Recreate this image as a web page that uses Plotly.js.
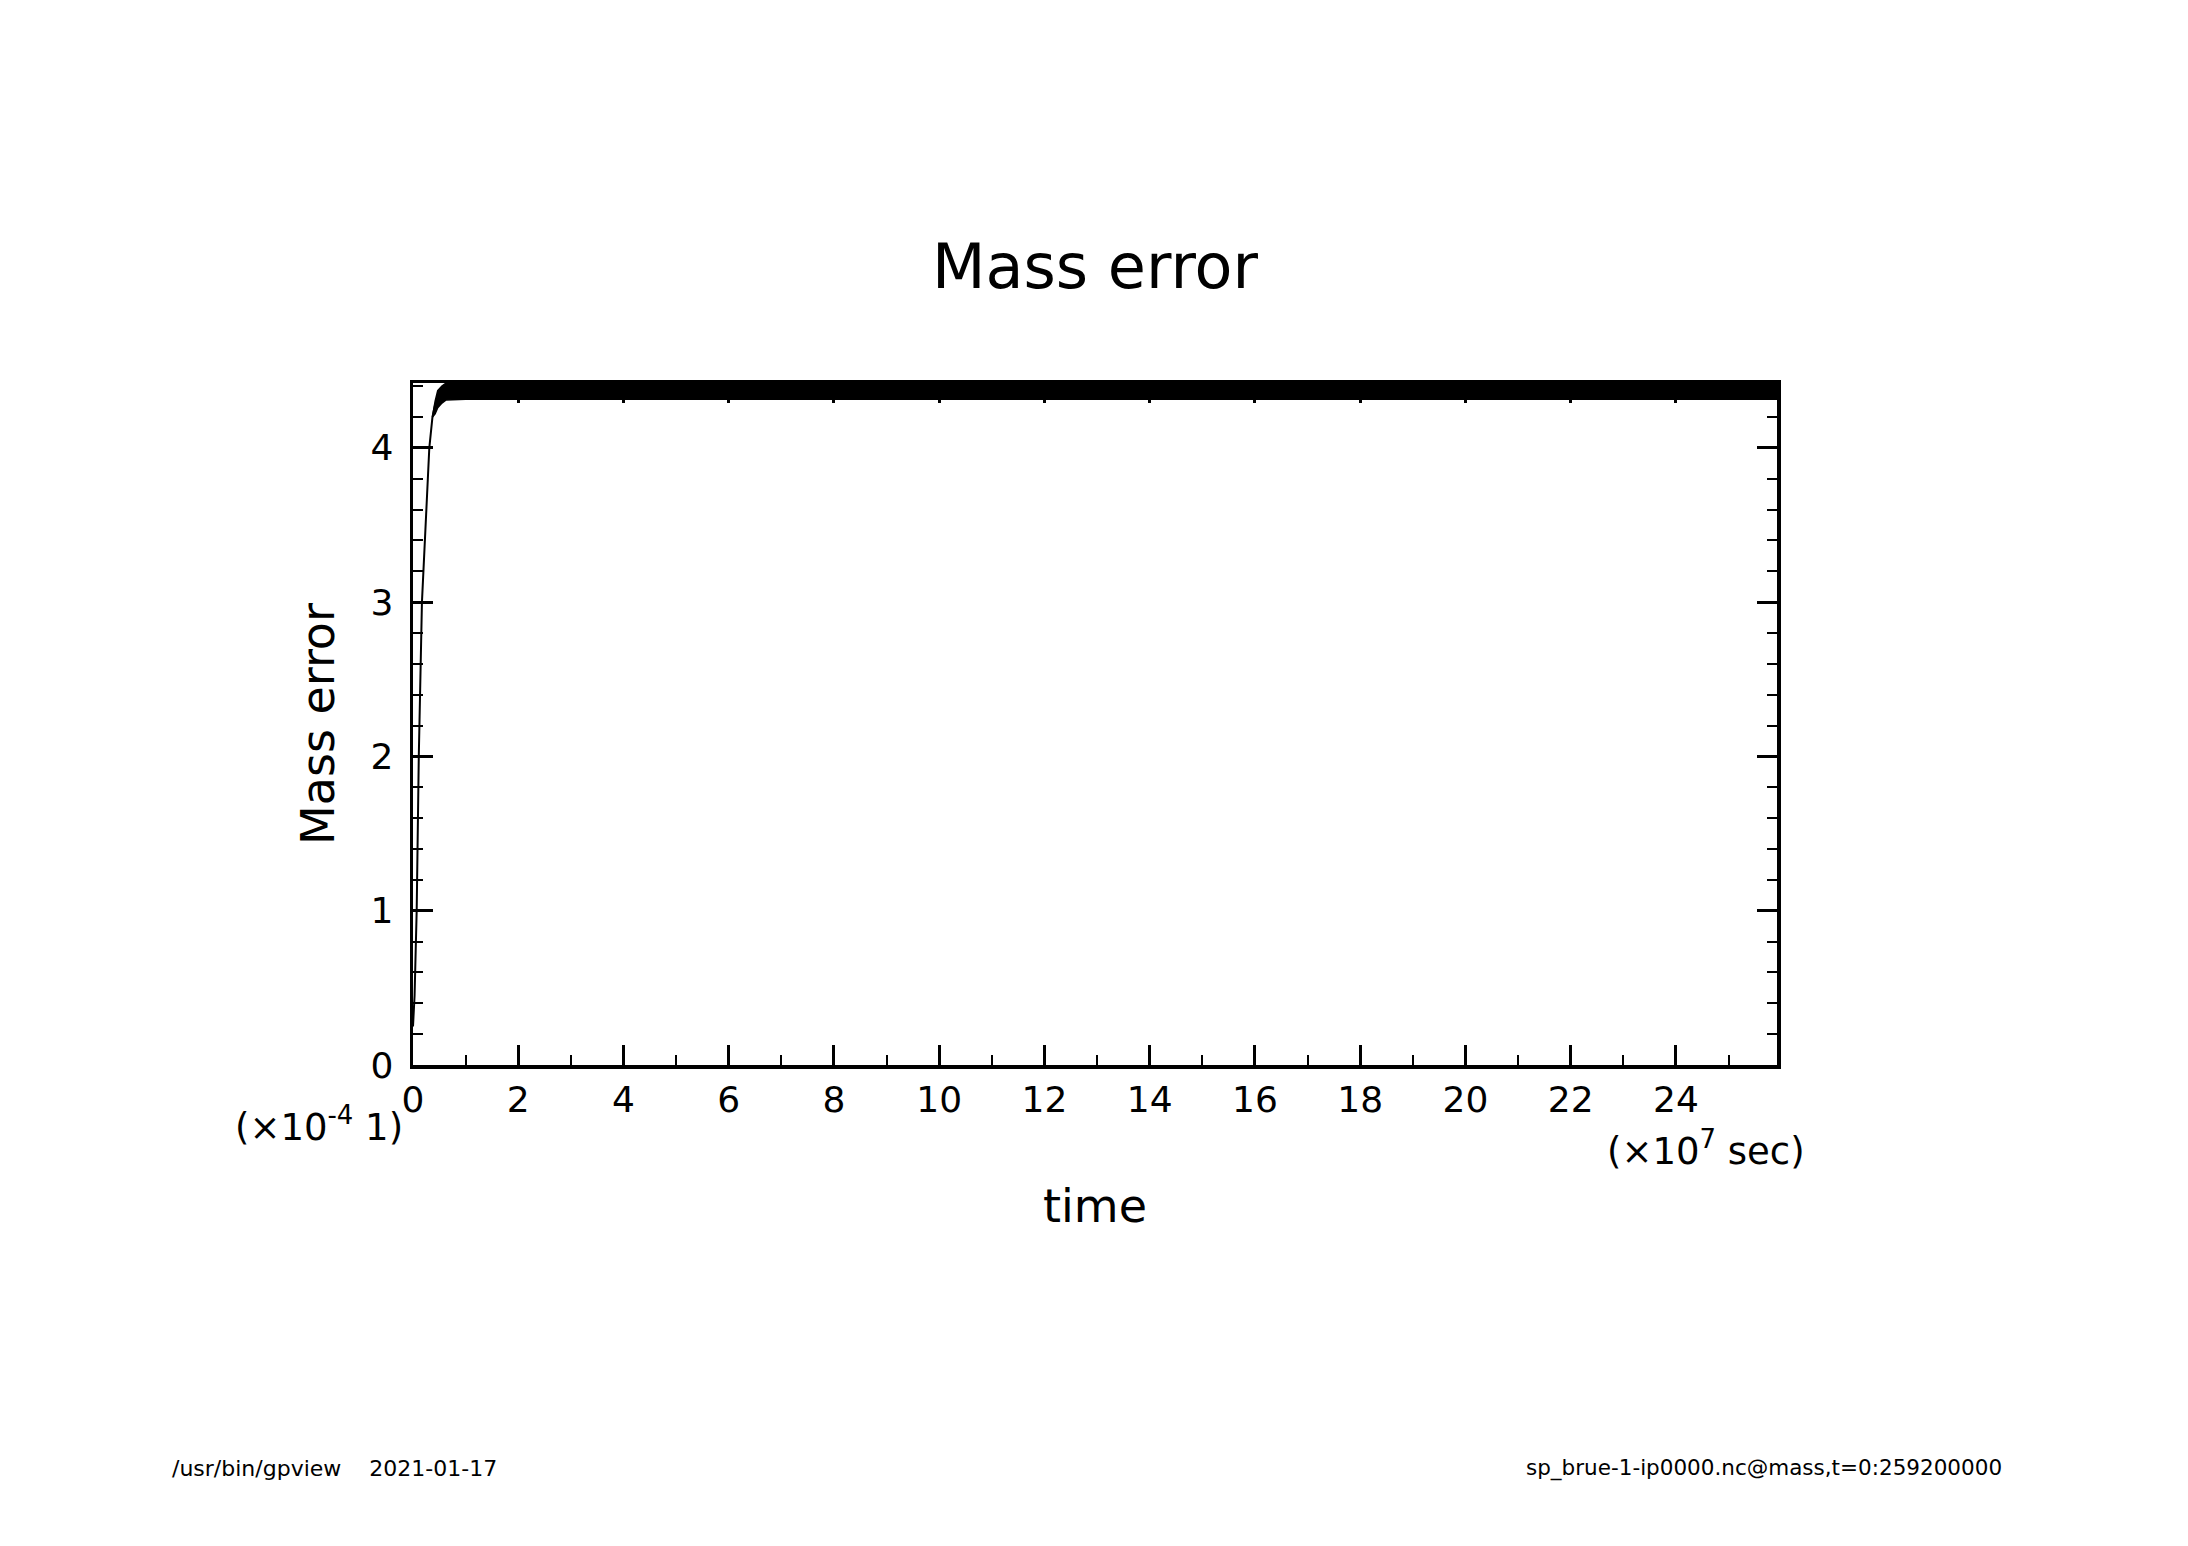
<!DOCTYPE html>
<html>
<head>
<meta charset="utf-8">
<script src="https://cdn.plot.ly/plotly-3.0.1.min.js"></script>
<style>html,body{margin:0;padding:0;background:#fff;}</style>
</head>
<body>
<div id="chart" style="width:2188px;height:1546px;"></div>
<script>
// time in units of 1e7 sec, mass error in units of 1e-4
const riseTime = [0, 0.03, 0.07, 0.11, 0.17, 0.24, 0.31, 0.37, 0.42];
const riseErr  = [0.25, 0.45, 1.0, 2.0, 3.0, 3.55, 4.0, 4.2, 4.28];

// dense oscillation band after spin-up: lower and upper envelopes
const bandTime  = [0.37, 0.42, 0.47, 0.55, 0.63, 1.0, 5.0, 10.0, 15.0, 20.0, 25.92];
const bandLower = [4.20, 4.22, 4.26, 4.29, 4.31, 4.315, 4.315, 4.315, 4.315, 4.315, 4.315];
const bandUpper = [4.20, 4.30, 4.37, 4.40, 4.42, 4.42, 4.42, 4.42, 4.42, 4.42, 4.42];

const xTickLabelsNote = "(×10<sup>7</sup> sec)";
const yTickLabelsNote = "(×10<sup>-4</sup> 1)";

const FONT = "DejaVu Sans";

const traces = [
  {x: riseTime, y: riseErr, type: 'scatter', mode: 'lines',
   line: {color: '#000', width: 2}, hoverinfo: 'skip'},
  {x: bandTime, y: bandLower, type: 'scatter', mode: 'lines',
   line: {color: '#000', width: 1.5}, hoverinfo: 'skip'},
  {x: bandTime, y: bandUpper, type: 'scatter', mode: 'lines',
   fill: 'tonexty', fillcolor: '#000',
   line: {color: '#000', width: 1.5}, hoverinfo: 'skip'}
];

const layout = {
  width: 2188, height: 1546,
  margin: {l: 413, r: 411, t: 383, b: 481},
  paper_bgcolor: '#fff', plot_bgcolor: '#fff',
  showlegend: false,
  font: {family: FONT, color: '#000'},
  title: {text: 'Mass error', font: {family: FONT, size: 62, color: '#000'},
          x: 0.5, xref: 'paper', xanchor: 'center',
          y: 1 - 266/1546, yref: 'container', yanchor: 'middle'},
  xaxis: {
    range: [0, 25.92], tick0: 0, dtick: 2,
    ticks: 'inside', ticklen: 20, tickwidth: 3, tickcolor: '#000',
    minor: {dtick: 1, ticks: 'inside', ticklen: 10, tickwidth: 2, tickcolor: '#000'},
    showline: true, linewidth: 3.5, linecolor: '#000', mirror: 'ticks',
    showgrid: false, zeroline: false,
    tickfont: {family: FONT, size: 36, color: '#000'},
    ticklabelstandoff: 0,
    title: {text: 'time', font: {family: FONT, size: 46, color: '#000'}, standoff: 72}
  },
  yaxis: {
    range: [0, 4.42], tick0: 0, dtick: 1,
    ticks: 'inside', ticklen: 20, tickwidth: 3, tickcolor: '#000',
    minor: {dtick: 0.2, ticks: 'inside', ticklen: 10, tickwidth: 2, tickcolor: '#000'},
    showline: true, linewidth: 3.5, linecolor: '#000', mirror: 'ticks',
    showgrid: false, zeroline: false,
    tickfont: {family: FONT, size: 36, color: '#000'},
    ticklabelstandoff: 9,
    title: {text: 'Mass error', font: {family: FONT, size: 46, color: '#000'}, standoff: 22}
  },
  annotations: [
    {text: xTickLabelsNote, xref: 'paper', yref: 'paper', x: 1.022, y: -0.123,
     xanchor: 'right', yanchor: 'middle', showarrow: false,
     font: {family: FONT, size: 37, color: '#000'}},
    {text: yTickLabelsNote, xref: 'paper', yref: 'paper', x: -0.006, y: -0.087,
     xanchor: 'right', yanchor: 'middle', showarrow: false,
     font: {family: FONT, size: 37, color: '#000'}},
    {text: '/usr/bin/gpview\u00a0\u00a0\u00a0\u00a02021-01-17', xref: 'paper', yref: 'paper',
     x: (170-413)/1364, y: -(1468-1065)/682, xanchor: 'left', yanchor: 'middle',
     showarrow: false, font: {family: FONT, size: 22, color: '#000'}},
    {text: 'sp_brue-1-ip0000.nc@mass,t=0:259200000', xref: 'paper', yref: 'paper',
     x: (2004-413)/1364, y: -(1468-1065)/682, xanchor: 'right', yanchor: 'middle',
     showarrow: false, font: {family: FONT, size: 21.5, color: '#000'}}
  ]
};

Plotly.newPlot('chart', traces, layout, {staticPlot: true, displayModeBar: false});
</script>
</body>
</html>
